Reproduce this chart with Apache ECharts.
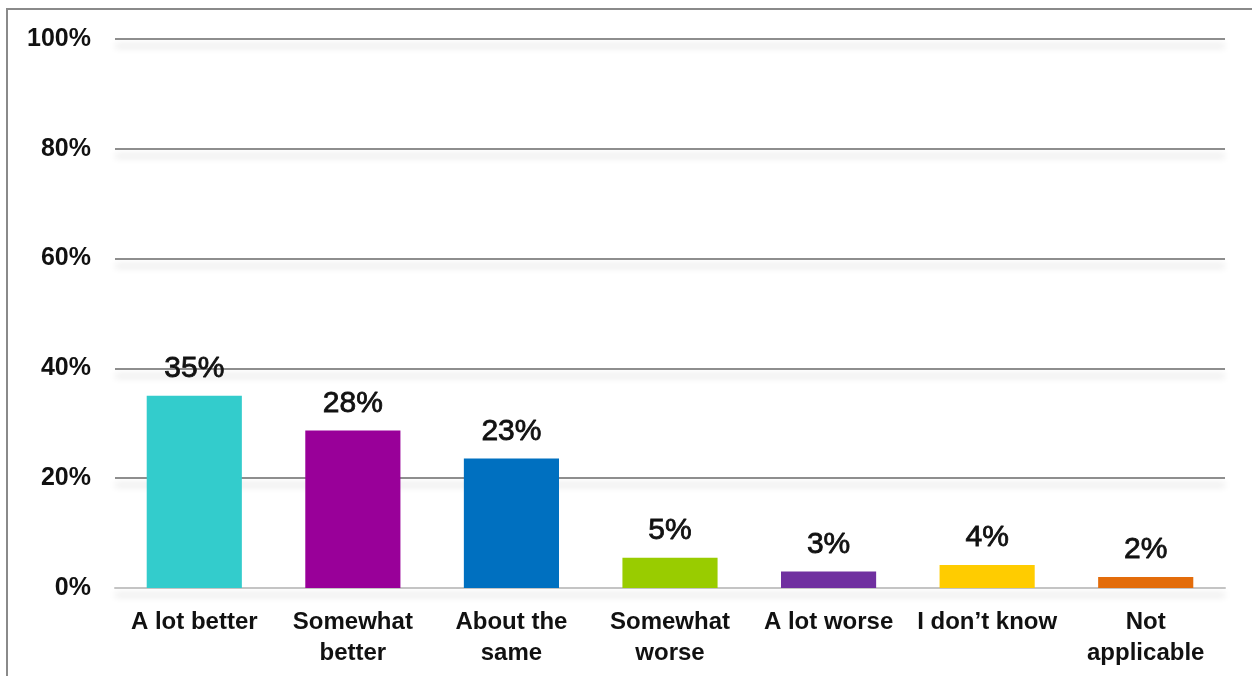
<!DOCTYPE html>
<html>
<head>
<meta charset="utf-8">
<script src="https://cdn.jsdelivr.net/npm/echarts@6/dist/echarts.min.js"></script>
<style>
html,body{margin:0;padding:0;background:#fff;overflow:hidden;}
#frame{position:absolute;left:6px;top:8px;width:1400px;height:800px;border-left:2px solid #8a8a8a;border-top:2px solid #8a8a8a;}
#chart{position:absolute;left:0;top:0;width:1252px;height:676px;}
</style>
</head>
<body>
<div id="frame"></div>
<div id="chart"></div>
<script>
const categories = ["A lot better", "Somewhat\nbetter", "About the\nsame", "Somewhat\nworse", "A lot worse", "I don\u2019t know", "Not\napplicable"];
const values = [35, 28.7, 23.6, 5.5, 3.0, 4.2, 2.0];
const valueLabels = ["35%", "28%", "23%", "5%", "3%", "4%", "2%"];
const colors = ["#33CCCC", "#990099", "#0070C0", "#99CC00", "#7030A0", "#FFCC00", "#E36C0A"];
const yTicks = [0, 20, 40, 60, 80, 100];

const chart = echarts.init(document.getElementById('chart'), null, {renderer: 'canvas'});
chart.setOption({
  animation: false,
  backgroundColor: 'transparent',
  grid: {left: 115, right: 27, top: 39, bottom: 88},
  xAxis: {
    type: 'category',
    data: categories,
    axisTick: {show: false},
    axisLine: {show: true, lineStyle: {color: '#c4c4c4', width: 2}},
    axisLabel: {
      margin: 19,
      interval: 0,
      color: '#111',
      fontFamily: 'Liberation Sans, Arial, sans-serif',
      fontWeight: 'bold',
      fontSize: 24,
      lineHeight: 31
    }
  },
  yAxis: {
    type: 'value',
    min: yTicks[0],
    max: yTicks[yTicks.length - 1],
    interval: yTicks[1] - yTicks[0],
    axisLine: {show: false},
    axisTick: {show: false},
    axisLabel: {
      margin: 24,
      color: '#111',
      fontFamily: 'Liberation Sans, Arial, sans-serif',
      fontWeight: 'bold',
      fontSize: 25,
      padding: [3, 0, 0, 0],
      formatter: v => v + '%'
    },
    splitLine: {
      show: true,
      lineStyle: {
        color: '#8e8e8e',
        width: 2,
        shadowColor: 'rgba(0,0,0,0.2)',
        shadowBlur: 7,
        shadowOffsetY: 7
      }
    }
  },
  series: [{
    type: 'bar',
    barWidth: '60%',
    data: values.map((v, i) => ({value: v, itemStyle: {color: colors[i]}})),
    label: {
      show: true,
      position: 'top',
      distance: 12,
      color: '#111',
      textBorderColor: '#111',
      textBorderWidth: 0.8,
      fontFamily: 'Liberation Sans, Arial, sans-serif',
      fontSize: 30,
      formatter: p => valueLabels[p.dataIndex]
    }
  }]
});
</script>
</body>
</html>
